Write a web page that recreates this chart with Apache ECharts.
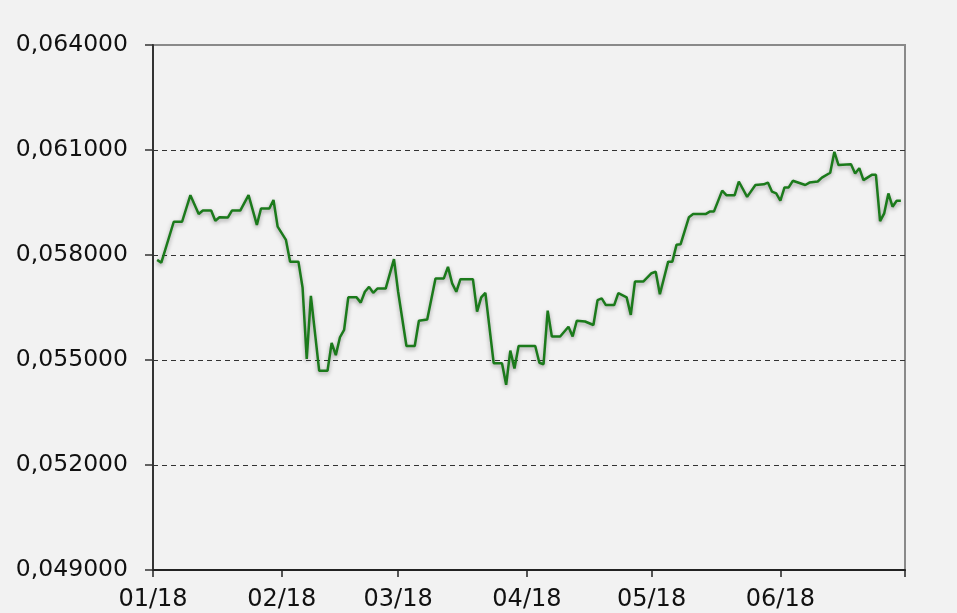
<!DOCTYPE html>
<html>
<head>
<meta charset="utf-8">
<script src="https://cdn.jsdelivr.net/npm/echarts@6/dist/echarts.min.js"></script>
<style>
    html, body { margin: 0; padding: 0; background: #f2f2f2; }
    #chart { width: 957px; height: 613px; }
</style>
</head>
<body>
<div id="chart"></div>
<script>
// daily quotes
var dates = [
    '2018-01-02','2018-01-03','2018-01-06','2018-01-08','2018-01-10','2018-01-12','2018-01-13','2018-01-15',
    '2018-01-16','2018-01-17','2018-01-19','2018-01-20','2018-01-22','2018-01-24','2018-01-26','2018-01-27',
    '2018-01-29','2018-01-30','2018-01-31','2018-02-02','2018-02-03','2018-02-05','2018-02-06','2018-02-07',
    '2018-02-08','2018-02-10','2018-02-12','2018-02-13','2018-02-14','2018-02-15','2018-02-16','2018-02-17',
    '2018-02-19','2018-02-20','2018-02-21','2018-02-22','2018-02-23','2018-02-24','2018-02-26','2018-02-28',
    '2018-03-01','2018-03-03','2018-03-05','2018-03-06','2018-03-08','2018-03-10','2018-03-12','2018-03-13',
    '2018-03-14','2018-03-15','2018-03-16','2018-03-19','2018-03-20','2018-03-21','2018-03-22','2018-03-24',
    '2018-03-26','2018-03-27','2018-03-28','2018-03-29','2018-03-30','2018-04-03','2018-04-04','2018-04-05',
    '2018-04-06','2018-04-07','2018-04-09','2018-04-11','2018-04-12','2018-04-13','2018-04-15','2018-04-17',
    '2018-04-18','2018-04-19','2018-04-20','2018-04-22','2018-04-23','2018-04-25','2018-04-26','2018-04-27',
    '2018-04-29','2018-05-01','2018-05-02','2018-05-03','2018-05-05','2018-05-06','2018-05-07','2018-05-08',
    '2018-05-10','2018-05-11','2018-05-14','2018-05-15','2018-05-16','2018-05-18','2018-05-19','2018-05-21',
    '2018-05-22','2018-05-24','2018-05-26','2018-05-28','2018-05-29','2018-05-30','2018-05-31','2018-06-01',
    '2018-06-02','2018-06-03','2018-06-04','2018-06-07','2018-06-08','2018-06-10','2018-06-11','2018-06-13',
    '2018-06-14','2018-06-15','2018-06-18','2018-06-19','2018-06-20','2018-06-21','2018-06-23','2018-06-24',
    '2018-06-25','2018-06-26','2018-06-27','2018-06-28','2018-06-29','2018-06-30'
];
var rates = [
    0.05786,0.05778,0.05895,0.05895,0.05971,0.05917,0.05927,0.05927,
    0.05898,0.05908,0.05907,0.05927,0.05927,0.05971,0.05886,0.05933,
    0.05933,0.05957,0.05881,0.05843,0.05781,0.05781,0.05707,0.05503,
    0.05683,0.05469,0.05469,0.05549,0.05514,0.05565,0.05586,0.05679,
    0.05679,0.05664,0.05695,0.05709,0.05692,0.05704,0.05704,0.05788,
    0.05695,0.05540,0.05540,0.05612,0.05616,0.05733,0.05733,0.05766,
    0.05719,0.05695,0.05731,0.05731,0.05638,0.05679,0.05692,0.05491,
    0.05491,0.05429,0.05527,0.05476,0.05540,0.05540,0.05492,0.05488,
    0.05641,0.05567,0.05567,0.05595,0.05567,0.05612,0.05610,0.05600,
    0.05671,0.05676,0.05657,0.05657,0.05691,0.05679,0.05629,0.05724,
    0.05724,0.05748,0.05752,0.05688,0.05781,0.05781,0.05829,0.05831,
    0.05908,0.05917,0.05917,0.05924,0.05924,0.05984,0.05971,0.05971,
    0.06010,0.05966,0.06000,0.06002,0.06007,0.05981,0.05976,0.05955,
    0.05993,0.05993,0.06012,0.06000,0.06007,0.06010,0.06021,0.06035,
    0.06095,0.06057,0.06059,0.06033,0.06048,0.06014,0.06029,0.06029,
    0.05897,0.05919,0.05976,0.05938,0.05955,0.05955
];
// month starts (days since 2018-01-01) and their labels
var monthDays = [0, 31, 59, 90, 120, 151, 181];
var monthLabels = ['01/18', '02/18', '03/18', '04/18', '05/18', '06/18', ''];

var start = Date.UTC(2018, 0, 1);
function dayOf(s) {
    var p = s.split('-');
    return (Date.UTC(+p[0], +p[1] - 1, +p[2]) - start) / 86400000;
}
var points = dates.map(function (d, i) { return [dayOf(d), rates[i]]; });

var chart = echarts.init(document.getElementById('chart'));
chart.setOption({
    backgroundColor: '#f2f2f2',
    animation: false,
    grid: {
        left: 153, right: 52, top: 45, bottom: 43,
        outerBoundsMode: 'none',
        containLabel: false,
        show: true,
        borderColor: '#8a8a8a',
        borderWidth: 2,
        backgroundColor: 'transparent'
    },
    xAxis: {
        type: 'value',
        min: 0,
        max: 181,
        axisLine: { lineStyle: { color: '#222', width: 2 } },
        axisTick: { show: true, length: 7, customValues: monthDays, lineStyle: { color: '#222', width: 1.5 } },
        axisLabel: {
            customValues: monthDays.slice(0, 6),
            formatter: function (v) { return monthLabels[monthDays.indexOf(v)] || ''; },
            color: '#111',
            fontFamily: 'DejaVu Sans',
            fontSize: 24,
            margin: 18
        },
        splitLine: { show: false }
    },
    yAxis: {
        type: 'value',
        min: 0.049,
        max: 0.064,
        interval: 0.003,
        axisLine: { show: true, lineStyle: { color: '#333', width: 2 } },
        axisTick: { show: true, length: 8, lineStyle: { color: '#333', width: 1.5 } },
        axisLabel: {
            formatter: function (v) { return v.toFixed(6).replace('.', ','); },
            color: '#111',
            fontFamily: 'DejaVu Sans',
            fontSize: 23.5,
            margin: 25
        },
        splitLine: {
            show: true,
            showMinLine: false,
            showMaxLine: false,
            lineStyle: { color: '#333', type: [5, 4], width: 1 }
        }
    },
    series: [{
        type: 'line',
        data: points,
        showSymbol: false,
        lineStyle: {
            color: '#1b7a1b',
            width: 2.5,
            shadowColor: 'rgba(0,0,0,0.35)',
            shadowBlur: 4,
            shadowOffsetY: 2
        }
    }]
});
</script>
</body>
</html>
